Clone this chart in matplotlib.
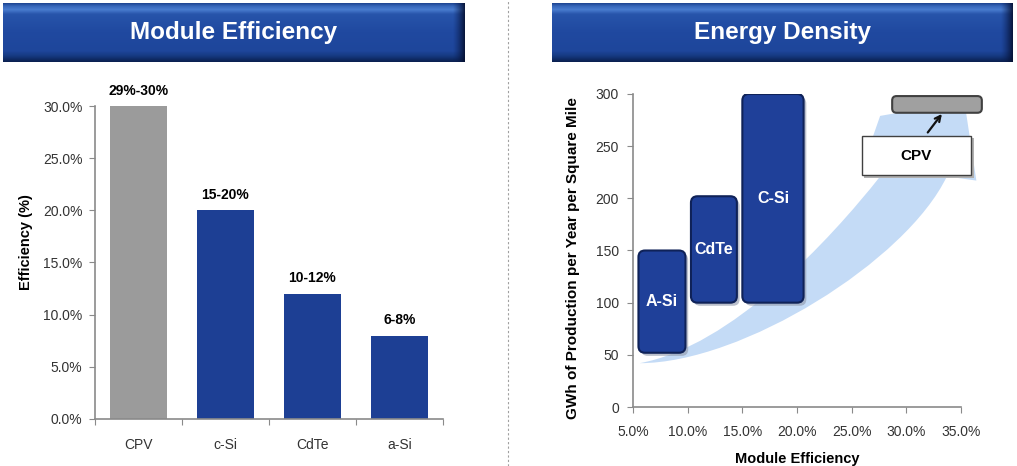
import matplotlib
matplotlib.use('Agg')
import matplotlib.pyplot as plt
import numpy as np
from matplotlib.patches import FancyBboxPatch, Rectangle, PathPatch
from matplotlib.path import Path
from matplotlib.colors import LinearSegmentedColormap

plt.rcParams['font.family'] = ['Liberation Sans', 'DejaVu Sans']

# Module efficiency (left panel)
categories = ['CPV', 'c-Si', 'CdTe', 'a-Si']
efficiency = [30, 20, 12, 8]
eff_labels = ['29%-30%', '15-20%', '10-12%', '6-8%']

# Energy density (right panel): efficiency range and GWh range per technology
tech_names = ['A-Si', 'CdTe', 'C-Si']
tech_eff_lo = [5.5, 10.3, 15.0]
tech_eff_hi = [9.8, 14.5, 20.6]
tech_gwh_lo = [52, 100, 100]
tech_gwh_hi = [150, 202, 300]
cpv_eff = [28.7, 36.9]
cpv_gwh = [282, 298]

BLUE = '#1d3f94'
GRAY = '#9b9b9b'
AXIS = '#8a8a8a'


def banner(fig, rect, text):
    ax = fig.add_axes(rect)
    cmap = LinearSegmentedColormap.from_list('ban', [
        (0.0, '#173a85'), (0.06, '#3565b8'), (0.12, '#4a7dd0'), (0.2, '#2754aa'),
        (0.5, '#2049a0'), (0.82, '#1e469b'), (0.9, '#163a82'), (1.0, '#0b2050')])
    grad = np.linspace(0, 1, 120).reshape(-1, 1)
    ax.imshow(grad, aspect='auto', cmap=cmap, extent=[0, 1, 0, 1], origin='upper')
    # darker right edge
    edge = np.linspace(0, 1, 40).reshape(1, -1)
    ecmap = LinearSegmentedColormap.from_list('edge', [(0.05, 0.13, 0.35, 0.0),
                                                       (0.02, 0.06, 0.18, 0.9)])
    ax.imshow(edge, aspect='auto', cmap=ecmap, extent=[0.975, 1, 0, 1])
    ax.set_xlim(0, 1)
    ax.set_ylim(0, 1)
    ax.axis('off')
    ax.text(0.5, 0.5, text, color='white', fontsize=17.5, fontweight='bold',
            ha='center', va='center')


def main():
    fig = plt.figure(figsize=(10.17, 4.66), dpi=100)

    banner(fig, [0.003, 0.867, 0.454, 0.127], 'Module Efficiency')
    banner(fig, [0.543, 0.867, 0.453, 0.127], 'Energy Density')

    # dashed separator
    fig.add_artist(plt.Line2D([0.4995, 0.4995], [0.0, 1.0], color='#a0a0a0',
                              lw=0.8, ls=(0, (2, 2))))

    # ---- left: bar chart ----
    ax1 = fig.add_axes([0.0934, 0.1009, 0.3422, 0.6716])
    x = np.arange(len(categories))
    colors = [GRAY] + [BLUE] * (len(categories) - 1)
    ax1.bar(x, efficiency, width=0.66, color=colors)
    for xi, v, lab in zip(x, efficiency, eff_labels):
        ax1.text(xi, v + 0.8, lab, ha='center', va='bottom', fontsize=10,
                 fontweight='bold')
    ax1.set_xlim(-0.5, len(categories) - 0.5)
    ax1.set_ylim(0, 30)
    ax1.set_yticks(np.arange(0, 31, 5))
    ax1.set_yticklabels(['%.1f%%' % t for t in np.arange(0, 31, 5)])
    ax1.set_xticks(np.arange(-0.5, len(categories), 1.0))
    ax1.set_xticklabels([])
    ax1.set_xticks(x, minor=True)
    ax1.set_xticklabels(categories, minor=True)
    ax1.tick_params(axis='x', which='minor', length=0, pad=14, labelsize=10,
                    labelcolor='#333333')
    ax1.tick_params(axis='x', which='major', length=4, color=AXIS, direction='out')
    ax1.tick_params(axis='y', length=4, color=AXIS, pad=5, labelsize=10,
                    labelcolor='#333333')
    for s in ['top', 'right']:
        ax1.spines[s].set_visible(False)
    for s in ['left', 'bottom']:
        ax1.spines[s].set_color(AXIS)
        ax1.spines[s].set_linewidth(1.2)
    ax1.set_ylabel('Efficiency (%)', fontsize=10.5, fontweight='bold')
    ax1.yaxis.set_label_coords(-0.178, 0.565)

    # ---- right: energy density ----
    ax2 = fig.add_axes([0.6224, 0.1266, 0.3226, 0.6717])
    ax2.set_xlim(5, 35)
    ax2.set_ylim(0, 300)
    xt = np.arange(5, 36, 5)
    ax2.set_xticks(xt)
    ax2.set_xticklabels(['%.1f%%' % t for t in xt])
    ax2.set_yticks(np.arange(0, 301, 50))
    ax2.tick_params(axis='x', length=4, color=AXIS, pad=9, labelsize=10,
                    labelcolor='#333333')
    ax2.tick_params(axis='y', length=4, color=AXIS, pad=6, labelsize=10,
                    labelcolor='#333333')
    for s in ['top', 'right']:
        ax2.spines[s].set_visible(False)
    for s in ['left', 'bottom']:
        ax2.spines[s].set_color(AXIS)
        ax2.spines[s].set_linewidth(1.2)
    ax2.set_xlabel('Module Efficiency', fontsize=10.5, fontweight='bold', labelpad=9)
    ax2.set_ylabel('GWh of Production per Year per Square Mile', fontsize=11,
                   fontweight='bold')
    ax2.yaxis.set_label_coords(-0.162, 0.476)

    # light blue swoosh arrow (decoration)
    verts = [(5.6, 42), (15, 42), (30, 140), (33.7, 221),
             (36.4, 217), (35.3, 293), (27.6, 279), (26.8, 255), (27.6, 221),
             (23, 160), (14, 58), (5.6, 42), (5.6, 42)]
    codes = [Path.MOVETO, Path.CURVE4, Path.CURVE4, Path.CURVE4,
             Path.LINETO, Path.LINETO, Path.LINETO, Path.LINETO, Path.LINETO,
             Path.CURVE4, Path.CURVE4, Path.CURVE4, Path.CLOSEPOLY]
    sw = PathPatch(Path(verts, codes), facecolor='#c4dbf6', edgecolor='none',
                   clip_on=False, zorder=1)
    ax2.add_patch(sw)

    asp = (300 / 313.0) / (30 / 328.0)
    for name, x0, x1, y0, y1 in zip(tech_names, tech_eff_lo, tech_eff_hi,
                                    tech_gwh_lo, tech_gwh_hi):
        shadow = FancyBboxPatch((x0 + 0.25, y0 - 3), x1 - x0, y1 - y0,
                                boxstyle='round,pad=0,rounding_size=0.6',
                                mutation_aspect=asp, facecolor='#8f97aa',
                                edgecolor='none', alpha=0.6, zorder=2)
        ax2.add_patch(shadow)
        box = FancyBboxPatch((x0, y0), x1 - x0, y1 - y0,
                             boxstyle='round,pad=0,rounding_size=0.6',
                             mutation_aspect=asp, facecolor='#1f4099',
                             edgecolor='#0f2258', lw=1.5, zorder=3)
        ax2.add_patch(box)
        ax2.text((x0 + x1) / 2, (y0 + y1) / 2, name, color='white', fontsize=11.5,
                 fontweight='bold', ha='center', va='center', zorder=4)

    cpv = FancyBboxPatch((cpv_eff[0], cpv_gwh[0]), cpv_eff[1] - cpv_eff[0],
                         cpv_gwh[1] - cpv_gwh[0],
                         boxstyle='round,pad=0,rounding_size=0.4',
                         mutation_aspect=asp, facecolor='#a0a0a0',
                         edgecolor='#404040', lw=1.5, zorder=3, clip_on=False)
    ax2.add_patch(cpv)

    lab_sh = Rectangle((26.15, 219.5), 10.0, 38, facecolor='#b0b0b0',
                       edgecolor='none', zorder=5, clip_on=False)
    ax2.add_patch(lab_sh)
    lab = Rectangle((25.9, 222), 10.0, 38, facecolor='white', edgecolor='#404040',
                    lw=1.0, zorder=5, clip_on=False)
    ax2.add_patch(lab)
    ax2.text(30.9, 241, 'CPV', fontsize=11, fontweight='bold', ha='center',
             va='center', zorder=6)
    ax2.annotate('', xy=(33.4, 283), xytext=(31.8, 261),
                 arrowprops=dict(arrowstyle='->', lw=1.6, color='#111111'),
                 zorder=6)

    fig.savefig('out.png', dpi=100)


if __name__ == '__main__':
    main()
